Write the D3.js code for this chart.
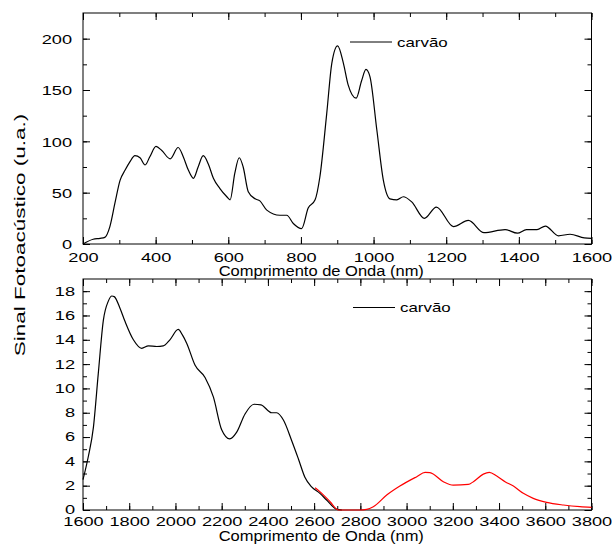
<!DOCTYPE html>
<html>
<head>
<meta charset="utf-8">
<script src="https://cdn.jsdelivr.net/npm/d3@7"></script>
<style>
  body { margin: 0; background: #fff; }
  text { font-family: Arial, "Liberation Sans", sans-serif; fill: #000; }
</style>
</head>
<body>
<div id="chart"></div>
<script>
// top panel: 200-1600 nm
const visX = [200, 228, 247, 260, 274, 288, 302, 316, 329, 343, 357, 371, 384, 401, 417, 440, 462, 476, 490, 504,
    517, 531, 545, 559, 577, 596, 605, 618, 630, 641, 655, 674, 687, 706, 742, 761, 779, 802, 820, 839,
    852, 871, 885, 901, 917, 930, 952, 967, 979, 990, 1009, 1027, 1045, 1064, 1082, 1105, 1140, 1173, 1220, 1261,
    1304, 1362, 1396, 1421, 1450, 1473, 1509, 1541, 1580, 1600];
const visY = [0, 4.6, 5.5, 6.5, 17, 40, 62, 72, 80, 86, 84, 77, 85, 95, 91, 83, 94, 85, 72, 64,
    75, 86, 78, 64, 54, 46, 43, 69, 84, 75, 51, 44, 42, 33, 28, 28, 20, 15, 35, 43,
    65, 127, 176, 193, 176, 155, 142, 159, 170, 163, 111, 62, 44, 43, 46, 41, 25, 36, 17, 23,
    11, 14, 10.5, 14, 14, 17.5, 8, 9.5, 6, 5.5];

// bottom panel: 1600-3800 nm, black part
const irX = [1600, 1623, 1645, 1666, 1688, 1710, 1725, 1735, 1760, 1782, 1818, 1854, 1883, 1919, 1947, 1976, 2012, 2030, 2049, 2085,
    2128, 2164, 2200, 2235, 2265, 2301, 2340, 2370, 2416, 2438, 2467, 2503, 2532, 2560, 2589, 2625, 2654, 2698, 2720];
const irY = [2.5, 4.4, 6.8, 11.2, 15.6, 17.2, 17.6, 17.55, 16.6, 15.5, 14.0, 13.3, 13.5, 13.45, 13.5, 14.0, 14.85, 14.4, 13.7, 11.9,
    10.9, 9.3, 6.6, 5.85, 6.4, 7.9, 8.7, 8.65, 8.0, 8.0, 7.4, 5.7, 4.2, 2.7, 1.9, 1.37, 0.82, 0.05, 0];

// bottom panel, red part
const redX = [2604, 2633, 2669, 2705, 2798, 2827, 2856, 2914, 2971, 3044, 3080, 3101, 3159, 3202, 3267, 3289, 3332, 3358, 3390, 3426,
    3462, 3505, 3548, 3606, 3678, 3750, 3800];
const redY = [1.83, 1.37, 0.68, 0, 0, 0.05, 0.27, 1.23, 1.97, 2.74, 3.09, 3.07, 2.33, 2.05, 2.1, 2.33, 2.95, 3.09, 2.79, 2.33,
    1.97, 1.37, 0.96, 0.63, 0.41, 0.27, 0.22];

const topXTicks = d3.range(200, 1601, 200);
const topYTicks = d3.range(0, 201, 50);
const botXTicks = d3.range(1600, 3801, 200);
const botYTicks = d3.range(0, 19, 2);

const legendLabel = "carvão";
const xTitle = "Comprimento de Onda (nm)";
const yTitle = "Sinal Fotoacústico (u.a.)";

const width = 612, height = 546;
const sx = 1.4; // the original font is drawn wide
const fmt = d3.format("d");

const svg = d3.select("#chart").append("svg")
    .attr("width", width)
    .attr("height", height);

function drawPanel(opt) {
    const x = d3.scaleLinear().domain(opt.xDomain).range([opt.left, opt.right]);
    const y = d3.scaleLinear().domain(opt.yDomain).range([opt.bottom, opt.top]);
    const g = svg.append("g");

    const xMinor = d3.range(opt.xDomain[0], opt.xDomain[1] + 1, opt.xMinor);
    const yMinor = d3.range(opt.yDomain[0], opt.yDomain[1], opt.yMinor);

    // minor ticks on all four sides
    g.append("g").attr("transform", `translate(0,${opt.bottom})`)
        .call(d3.axisBottom(x).tickValues(xMinor).tickSize(-4).tickFormat(""));
    g.append("g").attr("transform", `translate(0,${opt.top})`)
        .call(d3.axisTop(x).tickValues(xMinor).tickSize(-4).tickFormat(""));
    g.append("g").attr("transform", `translate(${opt.left},0)`)
        .call(d3.axisLeft(y).tickValues(yMinor).tickSize(-4).tickFormat(""));
    g.append("g").attr("transform", `translate(${opt.right},0)`)
        .call(d3.axisRight(y).tickValues(yMinor).tickSize(-4).tickFormat(""));

    // major ticks
    const xb = g.append("g").attr("transform", `translate(0,${opt.bottom})`)
        .call(d3.axisBottom(x).tickValues(opt.xTicks).tickSize(-7).tickFormat(fmt));
    g.append("g").attr("transform", `translate(0,${opt.top})`)
        .call(d3.axisTop(x).tickValues(opt.xTicks).tickSize(-7).tickFormat(""));
    const yl = g.append("g").attr("transform", `translate(${opt.left},0)`)
        .call(d3.axisLeft(y).tickValues(opt.yTicks).tickSize(-7).tickFormat(fmt));
    g.append("g").attr("transform", `translate(${opt.right},0)`)
        .call(d3.axisRight(y).tickValues(opt.yTicks).tickSize(-7).tickFormat(""));

    g.selectAll(".domain").remove();
    g.selectAll(".tick line").attr("stroke", "#000");

    xb.selectAll(".tick text")
        .attr("y", opt.xLabelDy)
        .attr("dy", 0)
        .attr("font-size", 13)
        .attr("font-family", "Arial, 'Liberation Sans', sans-serif")
        .attr("transform", `scale(${sx},1)`);
    yl.selectAll(".tick text")
        .attr("x", -opt.yLabelDx / sx)
        .attr("dy", opt.yLabelDy)
        .attr("font-size", 13)
        .attr("font-family", "Arial, 'Liberation Sans', sans-serif")
        .attr("transform", `scale(${sx},1)`);

    // frame
    g.append("rect")
        .attr("x", opt.left).attr("y", opt.top)
        .attr("width", opt.right - opt.left).attr("height", opt.bottom - opt.top)
        .attr("fill", "none").attr("stroke", "#000").attr("stroke-width", 1);

    // axis title
    g.append("text")
        .attr("transform", `translate(${(opt.left + opt.right) / 2 - 16},${opt.titleY}) scale(1.1,1)`)
        .attr("text-anchor", "middle")
        .attr("font-size", 15)
        .text(xTitle);

    // legend
    g.append("line")
        .attr("x1", opt.legX).attr("x2", opt.legX + 42)
        .attr("y1", opt.legY).attr("y2", opt.legY)
        .attr("stroke", "#000").attr("stroke-width", 1);
    g.append("text")
        .attr("transform", `translate(${opt.legX + 47},${opt.legY + 4.5}) scale(1.3,1)`)
        .attr("font-size", 13)
        .text(legendLabel);

    const line = d3.line()
        .x(d => x(d[0]))
        .y(d => y(d[1]))
        .curve(d3.curveMonotoneX);

    opt.series.forEach(s => {
        g.append("path")
            .datum(d3.zip(s.xs, s.ys))
            .attr("fill", "none")
            .attr("stroke", s.color)
            .attr("stroke-width", 1.2)
            .attr("d", line);
    });
}

drawPanel({
    left: 83, right: 591.5, top: 13, bottom: 244,
    xDomain: [200, 1600], yDomain: [0, 225],
    xTicks: topXTicks, yTicks: topYTicks, xMinor: 100, yMinor: 25,
    xLabelDy: 18, yLabelDx: 11, yLabelDy: "0.36em", titleY: 276,
    legX: 350, legY: 42,
    series: [{ xs: visX, ys: visY, color: "#000" }]
});

drawPanel({
    left: 83, right: 591.5, top: 279, bottom: 510,
    xDomain: [1600, 3800], yDomain: [0, 19],
    xTicks: botXTicks, yTicks: botYTicks, xMinor: 100, yMinor: 1,
    xLabelDy: 16.5, yLabelDx: 8, yLabelDy: "0.3em", titleY: 541,
    legX: 353, legY: 307.5,
    series: [{ xs: irX, ys: irY, color: "#000" }, { xs: redX, ys: redY, color: "#ff0000" }]
});

// shared y title
svg.append("text")
    .attr("transform", "translate(25,235) rotate(-90) scale(1.5,1)")
    .attr("text-anchor", "middle")
    .attr("font-size", 15)
    .text(yTitle);
</script>
</body>
</html>
